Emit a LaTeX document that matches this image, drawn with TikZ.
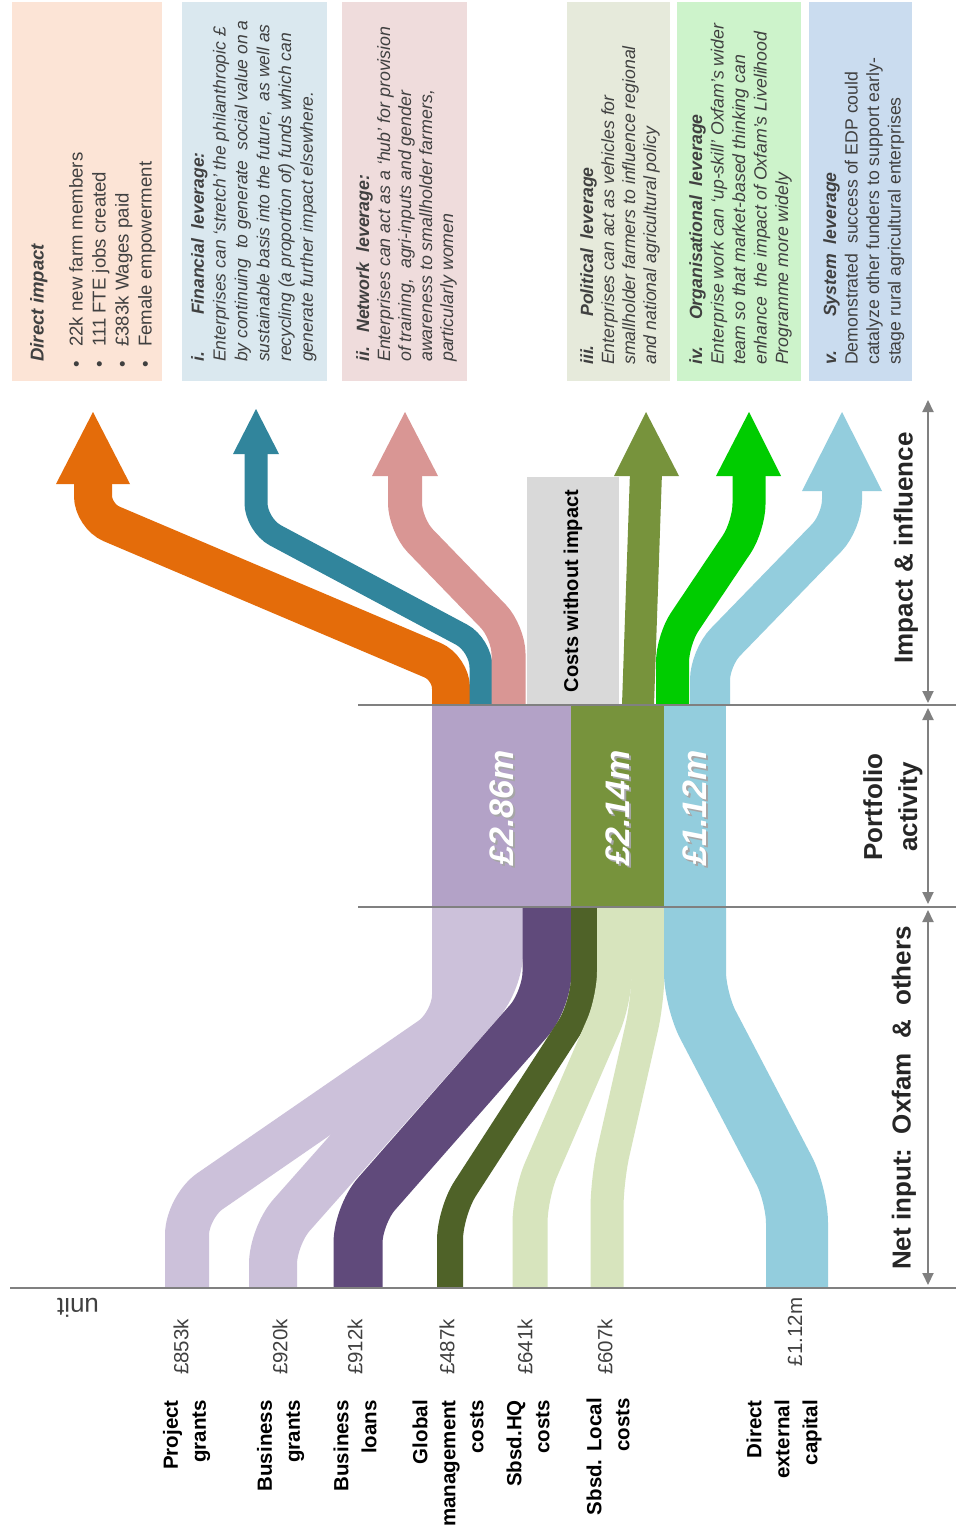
\documentclass[tikz,border=0pt]{standalone}
\usepackage{fontspec}
\setmainfont{Liberation Sans}
\usetikzlibrary{arrows.meta}

\definecolor{lav}{HTML}{CCC1DA}
\definecolor{dpurp}{HTML}{604A7B}
\definecolor{dgreen}{HTML}{4F6228}
\definecolor{lgreen}{HTML}{D7E4BD}
\definecolor{lblue}{HTML}{93CDDD}
\definecolor{purpblk}{HTML}{B3A2C7}
\definecolor{olivea}{HTML}{77933C}
\definecolor{orangea}{HTML}{E46C0A}
\definecolor{teala}{HTML}{31859C}
\definecolor{pinka}{HTML}{D99694}
\definecolor{brgreen}{HTML}{00CC00}
\definecolor{grayline}{HTML}{808080}
\definecolor{costgray}{HTML}{D9D9D9}
\definecolor{boxa}{HTML}{FCE4D6}
\definecolor{boxb}{HTML}{DAE8EF}
\definecolor{boxc}{HTML}{EFDCDC}
\definecolor{boxd}{HTML}{E6EADB}
\definecolor{boxe}{HTML}{CDF3CB}
\definecolor{boxf}{HTML}{CADCEF}
\definecolor{txt}{HTML}{404040}

\tikzset{
  flow/.style={line width=#1, rounded corners=28pt},
  arr/.style={line width=#1, rounded corners=22pt},
  sepline/.style={draw=grayline, line width=2pt},
  dimarrow/.style={draw=grayline, line width=2pt,
    {Triangle[width=11pt,length=12pt]}-{Triangle[width=11pt,length=12pt]}},
  boxtext/.style={rotate=90, anchor=north west, inner sep=0pt, align=left,
    text=txt, font=\fontsize{17.7}{21.5}\selectfont},
  lbl/.style={rotate=90, anchor=east, inner sep=0pt, align=right,
    font=\bfseries\fontsize{20.5}{28}\selectfont},
  num/.style={rotate=90, inner sep=0pt, text=txt, font=\fontsize{20.5}{24}\selectfont},
  sect/.style={rotate=90, inner sep=0pt, align=center, text=black!85,
    font=\bfseries\fontsize{26}{35}\selectfont},
  val/.style={rotate=90, inner sep=0pt, font=\bfseries\itshape\fontsize{34}{40}\selectfont},
}

\begin{document}
\begin{tikzpicture}[x=1pt,y=-1pt]
\useasboundingbox (0,0) rectangle (956,1532);
\fill[white] (0,0) rectangle (956,1532);

% ---------- top text boxes ----------
\fill[boxa] (12,2) rectangle (162,381);
\fill[boxb] (182,2) rectangle (327,381);
\fill[boxc] (342,2) rectangle (467,381);
\fill[boxd] (567,2) rectangle (670,381);
\fill[boxe] (677,2) rectangle (801,381);
\fill[boxf] (809,2) rectangle (912,381);

\node[boxtext, font=\fontsize{18.6}{23}\selectfont] (direct) at (30,362)
 {\textbf{\textit{Direct impact}}\\[16pt]
  \hspace*{-6pt}\makebox[21pt][l]{\textbullet}22k new farm members\\
  \hspace*{-6pt}\makebox[21pt][l]{\textbullet}111 FTE jobs created\\
  \hspace*{-6pt}\makebox[21pt][l]{\textbullet}£383k Wages paid\\
  \hspace*{-6pt}\makebox[21pt][l]{\textbullet}Female empowerment};

\node[boxtext, font=\itshape\fontsize{17.5}{21.8}\selectfont] (fin) at (191,362)
 {\textbf{\makebox[47pt][l]{i.}Financial\ \ leverage:}\\
  Enterprises can ‘stretch’ the philanthropic £\\
  by continuing\ \ to generate\ \ social value on a\\
  sustainable basis into the future,\ \ as well as\\
  recycling (a proportion of) funds which can\\
  generate further impact elsewhere.};

\node[boxtext, font=\itshape\fontsize{17.8}{21}\selectfont] (net) at (356,362)
 {\textbf{\makebox[29pt][l]{ii.}Network\ \ leverage:}\\
  Enterprises can act as a ‘hub’ for provision\\
  of training,\ \ agri-inputs and gender\\
  awareness to smallholder farmers,\\
  particularly women};

\node[boxtext, font=\itshape\fontsize{17.7}{21}\selectfont] (pol) at (580,365)
 {\textbf{\makebox[48pt][l]{iii.}Political\ \ leverage}\\
  Enterprises can act as vehicles for\\
  smallholder farmers to influence regional\\
  and national agricultural policy};

\node[boxtext, font=\itshape\fontsize{17.7}{21.5}\selectfont] (org) at (689,365)
 {\textbf{\makebox[45pt][l]{iv.}Organisational\ \ leverage}\\
  Enterprise work can ‘up-skill’ Oxfam’s wider\\
  team so that market-based thinking can\\
  enhance\ \ the impact of Oxfam’s Livelihood\\
  Programme more widely};

\node[boxtext] (sys) at (823,365)
 {\textbf{\textit{\makebox[48pt][l]{v.}System\ \ leverage}}\\
  Demonstrated\ \ success of EDP could\\
  catalyze other funders to support early-\\
  stage rural agricultural enterprises};

% ---------- impact arrows ----------
\draw[arr=38pt, orangea, rounded corners=20pt] (451,705) -- (451,668) -- (93,516) -- (93,480);
\fill[orangea] (56,484) -- (130,484) -- (93,412) -- cycle;

\draw[arr=23pt, teala] (481,705) -- (481,645) -- (256,525) -- (256,450);
\fill[teala] (233,454) -- (279,454) -- (256,409) -- cycle;

\draw[arr=34pt, pinka] (508.5,705) -- (508.5,632) -- (405,525) -- (405,472);
\fill[pinka] (372,476) -- (438,476) -- (405,412) -- cycle;

\fill[costgray] (527,477) rectangle (619,704);
\node[rotate=90, inner sep=0pt, font=\bfseries\fontsize{20}{24}\selectfont] (cwi) at (573,591) {Costs without impact};

\draw[arr=32pt, olivea] (638,705) -- (646,472);
\fill[olivea] (614,476) -- (679,476) -- (646,412) -- cycle;

\draw[arr=33pt, brgreen] (672.5,705) -- (672.5,640) -- (749,526) -- (749,472);
\fill[brgreen] (716,476) -- (781,476) -- (749,412) -- cycle;

\draw[arr=40pt, lblue] (710,705) -- (710,658) -- (842,522) -- (842,487);
\fill[lblue] (802,491) -- (882,491) -- (842,412) -- cycle;

% ---------- portfolio blocks ----------
\fill[purpblk] (432,706) rectangle (571,906);
\fill[olivea] (571,706) rectangle (664,906);
\fill[lblue] (664,706) rectangle (726,906);
\node[val, text=black!35] at (503.8,809.8) {£2.86m};
\node[val, text=white] (v1) at (502,808) {£2.86m};
\node[val, text=black!35] at (619.3,809.8) {£2.14m};
\node[val, text=white] (v2) at (617.5,808) {£2.14m};
\node[val, text=black!35] at (696.8,809.8) {£1.12m};
\node[val, text=white] (v3) at (695,808) {£1.12m};

% ---------- input flows ----------
\draw[flow=44pt, lav] (187,1288) -- (187,1207) -- (454,1023) -- (454,906);
\draw[flow=48pt, lav] (273,1288) -- (273,1236) -- (499,981) -- (499,906);
\draw[flow=49pt, dpurp] (358,1288) -- (358,1215) -- (547,1000) -- (547,906);
\draw[flow=26pt, dgreen] (450,1288) -- (450,1212) -- (584,1005) -- (584,906);
\draw[flow=35pt, lgreen] (530,1288) -- (530,1195) -- (614.5,1000) -- (614.5,906);
\draw[flow=33pt, lgreen] (607,1288) -- (607,1180) -- (648,1000) -- (648,906);
\draw[flow=62pt, lblue] (797,1288) -- (797,1195) -- (695,1000) -- (695,906);

% ---------- separators and dimension arrows ----------
\draw[sepline] (358,705) -- (956,705);
\draw[sepline] (358,907) -- (956,907);
\draw[sepline] (10,1288) -- (956,1288);

\draw[dimarrow] (928,400) -- (928,703);
\draw[dimarrow] (928,708) -- (928,904);
\draw[dimarrow] (928,910) -- (928,1285);

\node[sect] (s1) at (906,548) {Impact \& influence};
\node[sect] (s2) at (893,807) {Portfolio\\activity};
\node[sect] (s3) at (904,1098) {Net input:\ \ Oxfam\ \ \&\ \ others};

% ---------- input labels ----------
\node[rotate=180, inner sep=0pt, text=txt, font=\fontsize{26}{30}\selectfont] (unit) at (78,1308) {unit};

\node[num] (n1) at (181,1347) {£853k};
\node[num] (n2) at (280,1347) {£920k};
\node[num] (n3) at (355,1347) {£912k};
\node[num] (n4) at (447,1347) {£487k};
\node[num] (n5) at (525,1347) {£641k};
\node[num] (n6) at (605,1347) {£607k};
\node[num] (n7) at (795,1332) {£1.12m};

\node[lbl] (l1) at (186.5,1400) {Project\\grants};
\node[lbl] (l2) at (280.5,1400) {Business\\grants};
\node[lbl] (l3) at (355,1400) {Business\\loans};
\node[lbl] (l4) at (448,1400) {Global\\management\\costs};
\node[lbl] (l5) at (528,1400) {Sbsd.HQ\\costs};
\node[lbl] (l6) at (608,1398) {Sbsd. Local\\costs};
\node[lbl] (l7) at (784,1400) {Direct\\external\\capital};
\end{tikzpicture}
\end{document}
